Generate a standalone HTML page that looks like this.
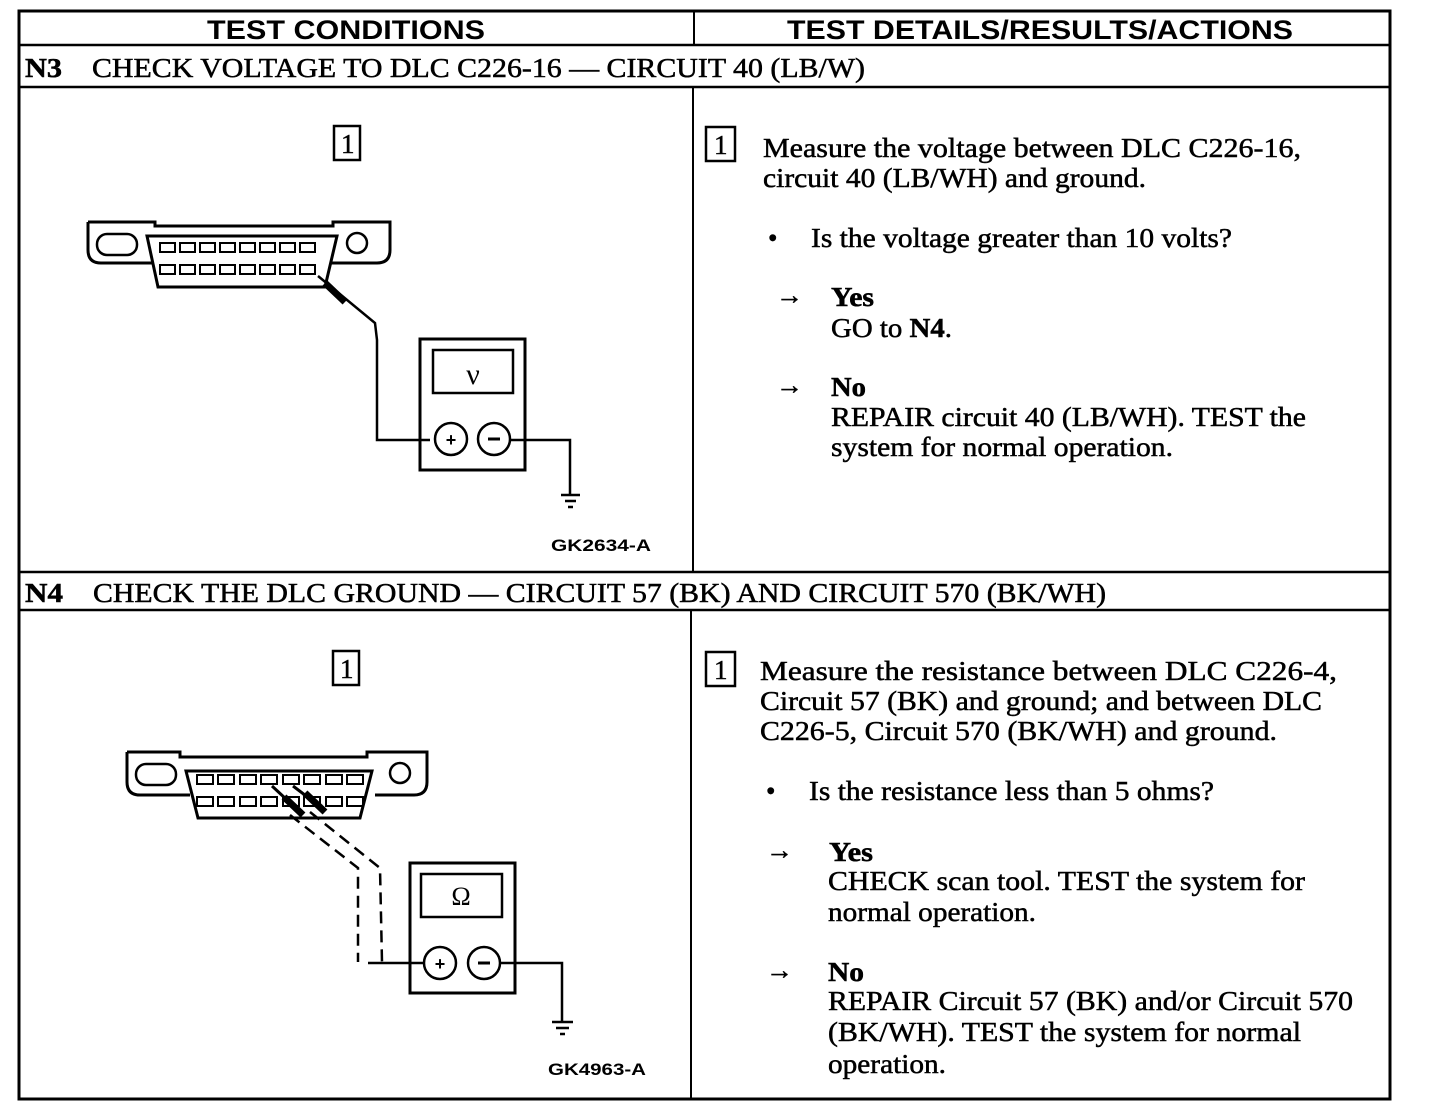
<!DOCTYPE html>
<html><head><meta charset="utf-8"><style>
html,body{margin:0;padding:0;background:#fff;}
svg{display:block;}
.s{font-family:"Liberation Serif",serif;font-size:27px;fill:#000;stroke:#000;stroke-width:0.5px;}
.h{font-family:"Liberation Sans",sans-serif;font-weight:bold;font-size:27px;fill:#000;}
.g{font-family:"Liberation Sans",sans-serif;font-weight:bold;font-size:17px;fill:#000;}
</style></head><body>
<svg width="1440" height="1114" viewBox="0 0 1440 1114" xmlns="http://www.w3.org/2000/svg">
<g fill="none" stroke="#000">
<rect x="19" y="11" width="1371" height="1088" stroke-width="3"/>
<line x1="19" y1="45" x2="1390" y2="45" stroke-width="2.5"/>
<line x1="19" y1="87" x2="1390" y2="87" stroke-width="2.5"/>
<line x1="19" y1="572" x2="1390" y2="572" stroke-width="2.5"/>
<line x1="19" y1="610" x2="1390" y2="610" stroke-width="2.5"/>
<line x1="694" y1="11" x2="694" y2="45" stroke-width="2"/>
<line x1="693" y1="87" x2="693" y2="572" stroke-width="2"/>
<line x1="691" y1="610" x2="691" y2="1099" stroke-width="2"/>
<rect x="334" y="126" width="26" height="34" stroke-width="2.5"/>
<rect x="706" y="127" width="29" height="34" stroke-width="2.5"/>
<rect x="333" y="651" width="26" height="34" stroke-width="2.5"/>
<rect x="706" y="652" width="29" height="34" stroke-width="2.5"/>
</g>
<text class="h" x="207" y="39" textLength="278" lengthAdjust="spacingAndGlyphs">TEST CONDITIONS</text>
<text class="h" x="787" y="39" textLength="506" lengthAdjust="spacingAndGlyphs">TEST DETAILS/RESULTS/ACTIONS</text>
<text class="s" x="25" y="77" font-weight="bold" textLength="37" lengthAdjust="spacingAndGlyphs">N3</text>
<text class="s" x="92" y="77" textLength="773" lengthAdjust="spacingAndGlyphs">CHECK VOLTAGE TO DLC C226-16 — CIRCUIT 40 (LB/W)</text>
<text class="s" x="25" y="602" font-weight="bold" textLength="38" lengthAdjust="spacingAndGlyphs">N4</text>
<text class="s" x="93" y="602" textLength="1013" lengthAdjust="spacingAndGlyphs">CHECK THE DLC GROUND — CIRCUIT 57 (BK) AND CIRCUIT 570 (BK/WH)</text>
<text class="s" x="341" y="153" font-size="20">1</text>
<text class="s" x="714" y="154" font-size="20">1</text>
<text class="s" x="340" y="678" font-size="20">1</text>
<text class="s" x="714" y="679" font-size="20">1</text>
<text class="s" x="763" y="157" textLength="538" lengthAdjust="spacingAndGlyphs">Measure the voltage between DLC C226-16,</text>
<text class="s" x="763" y="187" textLength="383" lengthAdjust="spacingAndGlyphs">circuit 40 (LB/WH) and ground.</text>
<text class="s" x="768" y="247">•</text>
<text class="s" x="811" y="247" textLength="421" lengthAdjust="spacingAndGlyphs">Is the voltage greater than 10 volts?</text>
<text class="s" x="776" y="304">→</text>
<text class="s" x="831" y="306" font-weight="bold" textLength="43" lengthAdjust="spacingAndGlyphs">Yes</text>
<text class="s" x="831" y="337" textLength="121" lengthAdjust="spacingAndGlyphs">GO to <tspan font-weight="bold">N4</tspan>.</text>
<text class="s" x="776" y="394">→</text>
<text class="s" x="831" y="396" font-weight="bold" textLength="35" lengthAdjust="spacingAndGlyphs">No</text>
<text class="s" x="831" y="426" textLength="475" lengthAdjust="spacingAndGlyphs">REPAIR circuit 40 (LB/WH). TEST the</text>
<text class="s" x="831" y="456" textLength="342" lengthAdjust="spacingAndGlyphs">system for normal operation.</text>
<text class="s" x="760" y="680" textLength="577" lengthAdjust="spacingAndGlyphs">Measure the resistance between DLC C226-4,</text>
<text class="s" x="760" y="710" textLength="562" lengthAdjust="spacingAndGlyphs">Circuit 57 (BK) and ground; and between DLC</text>
<text class="s" x="760" y="740" textLength="517" lengthAdjust="spacingAndGlyphs">C226-5, Circuit 570 (BK/WH) and ground.</text>
<text class="s" x="766" y="800">•</text>
<text class="s" x="809" y="800" textLength="405" lengthAdjust="spacingAndGlyphs">Is the resistance less than 5 ohms?</text>
<text class="s" x="766" y="859">→</text>
<text class="s" x="829" y="861" font-weight="bold" textLength="44" lengthAdjust="spacingAndGlyphs">Yes</text>
<text class="s" x="828" y="890" textLength="477" lengthAdjust="spacingAndGlyphs">CHECK scan tool. TEST the system for</text>
<text class="s" x="828" y="921" textLength="208" lengthAdjust="spacingAndGlyphs">normal operation.</text>
<text class="s" x="766" y="979">→</text>
<text class="s" x="828" y="981" font-weight="bold" textLength="36" lengthAdjust="spacingAndGlyphs">No</text>
<text class="s" x="828" y="1010" textLength="525" lengthAdjust="spacingAndGlyphs">REPAIR Circuit 57 (BK) and/or Circuit 570</text>
<text class="s" x="828" y="1041" textLength="473" lengthAdjust="spacingAndGlyphs">(BK/WH). TEST the system for normal</text>
<text class="s" x="828" y="1073" textLength="118" lengthAdjust="spacingAndGlyphs">operation.</text>
<text class="g" x="551" y="551" textLength="100" lengthAdjust="spacingAndGlyphs">GK2634-A</text>
<text class="g" x="548" y="1075" textLength="98" lengthAdjust="spacingAndGlyphs">GK4963-A</text>

<g fill="none" stroke="#000" stroke-width="3">
<path d="M88,222 H155 V226 H333 V222 H390 V250 Q390,263 377,263 H330 M88,222 V250 Q88,263 101,263 H152"/>
<path d="M147,236 H337 L325,287 H158 Z"/>
<rect x="97" y="234" width="40" height="21" rx="10" stroke-width="2.5"/>
<circle cx="357" cy="243" r="10" stroke-width="2.5"/>
<path d="M318,276 L375,323 L377,340 V440 H430" stroke-width="2.5"/>
<line x1="325" y1="283" x2="345" y2="302" stroke-width="7"/>
<rect x="420" y="339" width="105" height="131" stroke-width="3"/>
<rect x="433" y="350" width="80" height="43" stroke-width="2.5"/>
<circle cx="451" cy="439" r="16" stroke-width="2.5"/>
<circle cx="494" cy="439" r="16" stroke-width="2.5"/>
<path d="M510,440 H570 V495" stroke-width="2.5"/>
<path d="M561,495 H580 M565,501 H576 M568,507 H573" stroke-width="2.5"/>
</g>
<g fill="none" stroke="#000" stroke-width="2">
<rect x="160" y="243" width="15" height="9"/><rect x="180" y="243" width="15" height="9"/><rect x="200" y="243" width="15" height="9"/><rect x="220" y="243" width="15" height="9"/><rect x="240" y="243" width="15" height="9"/><rect x="260" y="243" width="15" height="9"/><rect x="280" y="243" width="15" height="9"/><rect x="300" y="243" width="15" height="9"/>
<rect x="160" y="265" width="15" height="9"/><rect x="180" y="265" width="15" height="9"/><rect x="200" y="265" width="15" height="9"/><rect x="220" y="265" width="15" height="9"/><rect x="240" y="265" width="15" height="9"/><rect x="260" y="265" width="15" height="9"/><rect x="280" y="265" width="15" height="9"/><rect x="300" y="265" width="15" height="9"/>
</g>
<text x="473" y="384" font-family="Liberation Serif,serif" font-size="30" text-anchor="middle">ν</text>
<text x="451" y="446" font-family="Liberation Sans,sans-serif" font-size="18" font-weight="bold" text-anchor="middle">+</text>
<line x1="488" y1="439" x2="500" y2="439" stroke="#000" stroke-width="3"/>

<g fill="none" stroke="#000" stroke-width="3">
<path d="M127,752 H180 V757 H367 V752 H427 V782 Q427,795 414,795 H375 M127,752 V782 Q127,795 140,795 H190"/>
<path d="M186,771 H372 L360,818 H198 Z"/>
<rect x="136" y="764" width="40" height="21" rx="10" stroke-width="2.5"/>
<circle cx="400" cy="773" r="10" stroke-width="2.5"/>
<rect x="410" y="863" width="105" height="130" stroke-width="3"/>
<rect x="421" y="874" width="81" height="43" stroke-width="2.5"/>
<circle cx="440" cy="963" r="16" stroke-width="2.5"/>
<circle cx="484" cy="963" r="16" stroke-width="2.5"/>
<path d="M368,963 H424" stroke-width="2.5"/>
<path d="M500,963 H562 V1022" stroke-width="2.5"/>
<path d="M552,1022 H573 M556,1028 H569 M560,1034 H565" stroke-width="2.5"/>
<path d="M290,815 L358,868 V962" stroke-width="2.5" stroke-dasharray="12,7"/>
<path d="M310,812 L380,868 L382,962" stroke-width="2.5" stroke-dasharray="12,7"/>
<path d="M272,786 L300,812 M293,786 L322,808" stroke-width="3"/>
<line x1="284" y1="797" x2="303" y2="815" stroke-width="7"/>
<line x1="305" y1="793" x2="325" y2="812" stroke-width="7"/>
</g>
<g fill="none" stroke="#000" stroke-width="2">
<rect x="197" y="775" width="16" height="9"/><rect x="218" y="775" width="16" height="9"/><rect x="240" y="775" width="16" height="9"/><rect x="261" y="775" width="16" height="9"/><rect x="283" y="775" width="16" height="9"/><rect x="304" y="775" width="16" height="9"/><rect x="326" y="775" width="16" height="9"/><rect x="347" y="775" width="16" height="9"/>
<rect x="197" y="797" width="16" height="9"/><rect x="218" y="797" width="16" height="9"/><rect x="240" y="797" width="16" height="9"/><rect x="261" y="797" width="16" height="9"/><rect x="283" y="797" width="16" height="9"/><rect x="304" y="797" width="16" height="9"/><rect x="326" y="797" width="16" height="9"/><rect x="347" y="797" width="16" height="9"/>
</g>
<text x="461" y="905" font-family="Liberation Serif,serif" font-size="26" text-anchor="middle">Ω</text>
<text x="440" y="970" font-family="Liberation Sans,sans-serif" font-size="18" font-weight="bold" text-anchor="middle">+</text>
<line x1="478" y1="963" x2="490" y2="963" stroke="#000" stroke-width="3"/>
</svg>
</body></html>
